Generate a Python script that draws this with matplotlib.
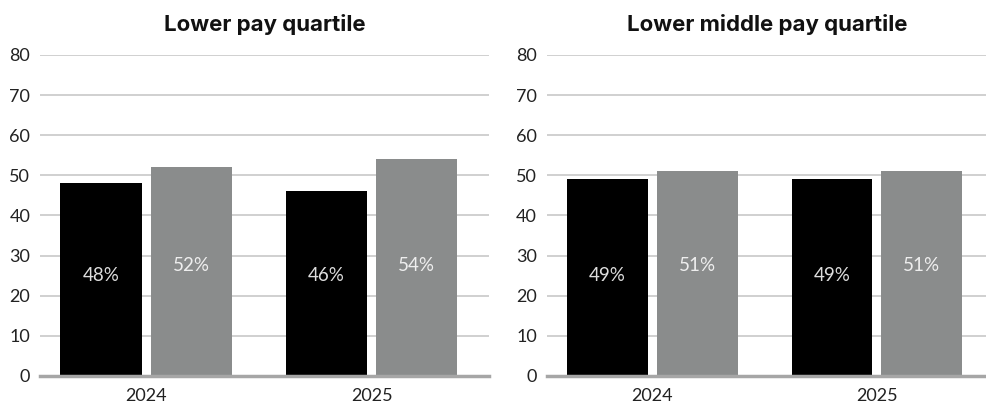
import matplotlib.pyplot as plt
import numpy as np

years = ["2024", "2025"]
titles = ["Lower pay quartile", "Lower middle pay quartile"]
black_vals = [[48, 46], [49, 49]]
gray_vals = [[52, 54], [51, 51]]
black_labels = [["48%", "46%"], ["49%", "49%"]]
gray_labels = [["52%", "54%"], ["51%", "51%"]]
yticks = [0, 10, 20, 30, 40, 50, 60, 70, 80]

BLACK = "#000000"
GRAY = "#8a8c8c"
GRID = "#c8c8c8"
AXLINE = "#a6a6a6"

plt.rcParams['font.family'] = ['Lato', 'DejaVu Sans']

fig = plt.figure(figsize=(9.87, 4.11), dpi=100)
positions = [[0.0405, 0.0852, 0.455, 0.781], [0.554, 0.0852, 0.446, 0.781]]

x = np.arange(len(years))
w = 0.36
for i in range(2):
    ax = fig.add_axes(positions[i])
    ax.bar(x - 0.2, black_vals[i], w, color=BLACK, zorder=3)
    ax.bar(x + 0.2, gray_vals[i], w, color=GRAY, zorder=3)
    for j in range(len(years)):
        ax.text(x[j] - 0.2, 25, black_labels[i][j], ha='center', va='center',
                color='#dddddd', fontsize=13.5, zorder=4)
        ax.text(x[j] + 0.2, 27.6, gray_labels[i][j], ha='center', va='center',
                color='#eeeeee', fontsize=13.5, zorder=4)
    ax.set_ylim(0, 80)
    ax.set_xlim(-0.47, 1.52 if i == 0 else 1.49)
    ax.set_yticks(yticks)
    ax.set_xticks(x)
    ax.set_xticklabels(years)
    ax.yaxis.grid(True, color=GRID, linewidth=1.2, zorder=0)
    ax.set_axisbelow(True)
    for s in ['top', 'right', 'left']:
        ax.spines[s].set_visible(False)
    ax.spines['bottom'].set_color(AXLINE)
    ax.spines['bottom'].set_linewidth(2.5)
    ax.spines['bottom'].set_zorder(5)
    ax.tick_params(axis='both', length=0, labelsize=13, colors='#222222')
    ax.tick_params(axis='y', pad=7)
    ax.tick_params(axis='x', pad=9)
    ax.set_title(titles[i], fontsize=16, fontweight='bold', pad=17,
                 color='#111111', family=['Inter', 'DejaVu Sans'])

fig.savefig("out.png", dpi=100)
